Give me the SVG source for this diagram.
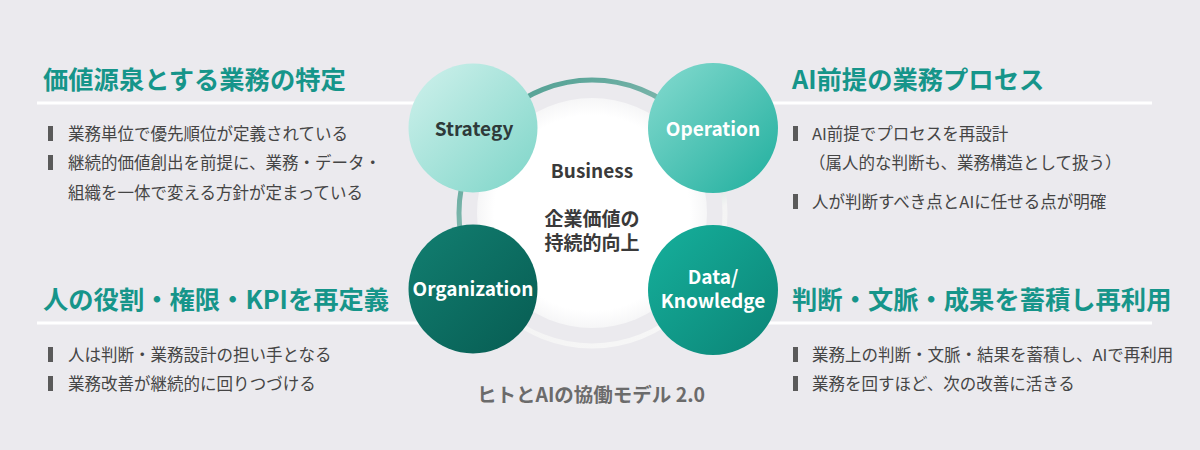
<svg xmlns="http://www.w3.org/2000/svg" width="1200" height="450" viewBox="0 0 1200 450">
<defs>
<style>
.h{font-family:"Noto Sans CJK JP","Noto Sans",sans-serif;font-weight:700;font-size:25.3px;fill:#16958a}
.b{font-family:"Noto Sans CJK JP","Noto Sans",sans-serif;font-weight:400;font-size:16.5px;fill:#454545}
.n{font-family:"Noto Sans CJK JP","Noto Sans",sans-serif;font-weight:700;font-size:19px;text-anchor:middle}
.c{font-family:"Noto Sans CJK JP","Noto Sans",sans-serif;font-weight:700;text-anchor:middle;fill:#3a3a3a}
.bar{fill:#5a5a5a}
.ln{stroke:#ffffff;stroke-width:3;fill:none}
.dot{fill:#ffffff}
</style>
<linearGradient id="gS" x1="0" y1="0" x2="1" y2="1"><stop offset="0" stop-color="#d0f1ec"/><stop offset="1" stop-color="#7dd5c8"/></linearGradient>
<linearGradient id="gO" x1="0" y1="0" x2="1" y2="1"><stop offset="0" stop-color="#86dbd0"/><stop offset="1" stop-color="#1fae9d"/></linearGradient>
<linearGradient id="gG" x1="0" y1="0" x2="1" y2="1"><stop offset="0" stop-color="#127f71"/><stop offset="1" stop-color="#075c52"/></linearGradient>
<linearGradient id="gD" x1="0" y1="0" x2="1" y2="1"><stop offset="0" stop-color="#16b09c"/><stop offset="1" stop-color="#0b8476"/></linearGradient>
<linearGradient id="gR" x1="0.2" y1="0" x2="0.8" y2="1"><stop offset="0" stop-color="#4f9f92"/><stop offset="0.45" stop-color="#8fbfb6"/><stop offset="0.7" stop-color="#f4f4f4"/><stop offset="1" stop-color="#f7f7f7"/></linearGradient>
<radialGradient id="gW" cx="0.5" cy="0.5" r="0.5"><stop offset="0.85" stop-color="#ffffff"/><stop offset="1" stop-color="#f6f6f7"/></radialGradient>
</defs>
<rect width="1200" height="450" fill="#ebeaee"/>

<g id="hub">
<circle cx="592" cy="213" r="133" fill="none" stroke="url(#gR)" stroke-width="5"/>
<circle cx="592" cy="213" r="115" fill="url(#gW)"/>
<text class="c" x="592" y="178" font-size="19">Business</text>
<text class="c" x="592" y="226" font-size="19">企業価値の</text>
<text class="c" x="592" y="250" font-size="19">持続的向上</text>
</g>

<g id="connectors">
<line class="ln" x1="37" y1="103" x2="430" y2="103"/>
<circle class="dot" cx="430" cy="103" r="6"/>
<line class="ln" x1="758" y1="103" x2="1152" y2="103"/>
<circle class="dot" cx="758" cy="103" r="6"/>
<line class="ln" x1="37" y1="323" x2="430" y2="323"/>
<circle class="dot" cx="430" cy="323" r="6"/>
<line class="ln" x1="758" y1="323" x2="1152" y2="323"/>
<circle class="dot" cx="758" cy="323" r="6"/>
</g>

<g id="strategy">
<circle cx="473" cy="128" r="64.5" fill="url(#gS)"/>
<text class="n" x="474" y="136" fill="#2f3a3a">Strategy</text>
</g>
<g id="operation">
<circle cx="713" cy="128" r="65" fill="url(#gO)"/>
<text class="n" x="713" y="136" fill="#ffffff">Operation</text>
</g>
<g id="organization">
<circle cx="473" cy="289" r="64.5" fill="url(#gG)"/>
<text class="n" x="473" y="296" fill="#ffffff">Organization</text>
</g>
<g id="data">
<circle cx="713" cy="290" r="65" fill="url(#gD)"/>
<text class="n" x="713" y="284" fill="#ffffff">Data/</text>
<text class="n" x="713" y="308" fill="#ffffff">Knowledge</text>
</g>

<g id="strategy-text">
<text class="h" x="43" y="89">価値源泉とする業務の特定</text>
<rect class="bar" x="48" y="126" width="5" height="15"/>
<text class="b" x="68" y="140">業務単位で優先順位が定義されている</text>
<rect class="bar" x="48" y="155" width="5" height="15"/>
<text class="b" x="68" y="169">継続的価値創出を前提に、業務・データ・</text>
<text class="b" x="68" y="199">組織を一体で変える方針が定まっている</text>
</g>

<g id="operation-text">
<text class="h" x="792" y="89">AI前提の業務プロセス</text>
<rect class="bar" x="793" y="126" width="5" height="15"/>
<text class="b" x="812" y="140">AI前提でプロセスを再設計</text>
<text class="b" x="809" y="169">（属人的な判断も、業務構造として扱う）</text>
<rect class="bar" x="793" y="194" width="5" height="15"/>
<text class="b" x="812" y="208">人が判断すべき点とAIに任せる点が明確</text>
</g>

<g id="organization-text">
<text class="h" x="43" y="309">人の役割・権限・KPIを再定義</text>
<rect class="bar" x="48" y="347" width="5" height="15"/>
<text class="b" x="68" y="361">人は判断・業務設計の担い手となる</text>
<rect class="bar" x="48" y="376" width="5" height="15"/>
<text class="b" x="68" y="390">業務改善が継続的に回りつづける</text>
</g>

<g id="data-text">
<text class="h" x="792" y="309">判断・文脈・成果を蓄積し再利用</text>
<rect class="bar" x="793" y="347" width="5" height="15"/>
<text class="b" x="812" y="361">業務上の判断・文脈・結果を蓄積し、AIで再利用</text>
<rect class="bar" x="793" y="376" width="5" height="15"/>
<text class="b" x="812" y="390">業務を回すほど、次の改善に活きる</text>
</g>

<text x="591" y="402" text-anchor="middle" font-family="'Noto Sans CJK JP','Noto Sans',sans-serif" font-weight="700" font-size="19.5" fill="#6b6b6b">ヒトとAIの協働モデル 2.0</text>
</svg>
